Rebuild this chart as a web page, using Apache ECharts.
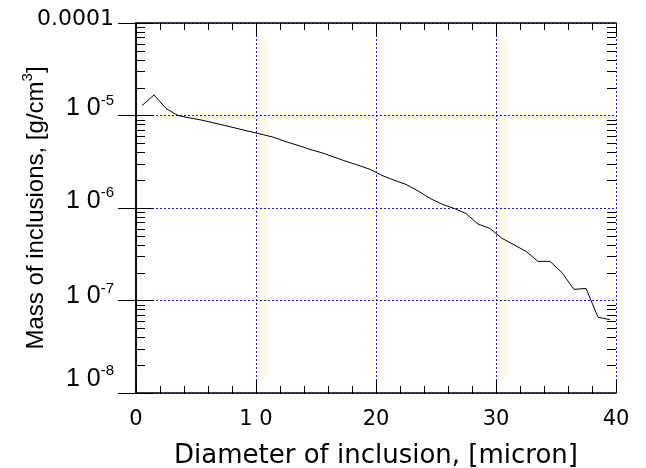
<!DOCTYPE html>
<html>
<head>
<meta charset="utf-8">
<script src="https://cdn.jsdelivr.net/npm/echarts@6/dist/echarts.min.js"></script>
<style>html,body{margin:0;padding:0;background:#fff}#c{width:646px;height:468px}</style>
</head>
<body>
<div id="c"></div>
<script>
// ---- data ----
const diameter = [0.5,1.5,2.5,3.5,4.5,5.5,6.5,7.5,8.5,9.5,10.5,11.5,12.5,13.5,14.5,15.5,16.5,17.5,18.5,19.5,
  20.5,21.5,22.5,23.5,24.5,25.5,26.5,27.5,28.5,29.5,30.5,31.5,32.5,33.5,34.5,35.5,36.5,37.5,38.5,39.5];
const mass = [1.28e-5,1.67e-5,1.19e-5,1.0e-5,9.4e-6,8.9e-6,8.3e-6,7.75e-6,7.2e-6,6.7e-6,
  6.25e-6,5.8e-6,5.2e-6,4.75e-6,4.3e-6,3.95e-6,3.55e-6,3.2e-6,2.9e-6,2.62e-6,
  2.25e-6,2.0e-6,1.8e-6,1.53e-6,1.27e-6,1.1e-6,9.9e-7,8.7e-7,6.7e-7,6.0e-7,
  4.7e-7,4.0e-7,3.4e-7,2.65e-7,2.65e-7,2.0e-7,1.32e-7,1.35e-7,6.6e-8,6.2e-8];
const xTickValues = [0,10,20,30,40];
const xTickLabels = ['0','1 0','20','30','40'];
const yTickValues = [1e-8,1e-7,1e-6,1e-5,1e-4];
const yTickBase = ['1 0','1 0','1 0','1 0','0.0001'];
const yTickExp = ['-8','-7','-6','-5',''];
const minorMultipliers = [2,3,4,5,6,7,8,9];
const minorDecades = [1e-8,1e-7,1e-6,1e-5];
const xTitle = 'Diameter of inclusion, [micron]';
const yTitleMain = 'Mass of inclusions, [g/cm';
const yTitleSup = '3';

const minorTickData = [];
minorDecades.forEach(d => minorMultipliers.forEach(m => minorTickData.push([0, m * d])));

const grid = {left:136, top:23, right:30, bottom:75, containLabel:false, outerBoundsMode:'none'};
const gridColor = '#1515c8';
const fontA = "'Liberation Sans', Arial, sans-serif";
const fontD = "'DejaVu Sans', sans-serif";

// per-label vertical lift (layout only)
const yLift = [28, 8, 14, 14, 7];
const rich = {};
yTickValues.forEach((v,i) => {
  const isBig = yTickExp[i] !== '';
  rich['b'+i] = {fontFamily: isBig ? fontA : fontD, fontSize: isBig ? 25 : 22, color:'#000', padding:[0,0,yLift[i],0], lineHeight: isBig ? 26 : 22};
  rich['s'+i] = {fontFamily: fontA, fontSize: 15, color:'#000', padding:[0,0,yLift[i]+16,0], lineHeight: 15};
});

function yLabel(val){
  const i = yTickValues.findIndex(t => Math.abs(Math.log10(t) - Math.log10(val)) < 1e-6);
  if (i < 0) return '';
  return '{b'+i+'|'+yTickBase[i]+'}' + (yTickExp[i] ? '{s'+i+'|'+yTickExp[i]+'}' : '');
}
function xLabel(val){
  const i = xTickValues.indexOf(val);
  return i < 0 ? '' : xTickLabels[i];
}

const chart = echarts.init(document.getElementById('c'), null, {renderer:'canvas'});
const axisLine = {show:true, lineStyle:{color:'#000', width:1.5}};
const split = {show:true, lineStyle:{color:gridColor, width:1, type:[2,2]}};
chart.setOption({
  animation:false,
  backgroundColor:'#fff',
  grid: grid,
  xAxis: [
    {type:'value', position:'bottom', min:0, max:40, interval:10,
     axisLine: axisLine, splitLine: split,
     axisTick:{show:true, inside:true, length:13, lineStyle:{color:'#000', width:1}},
     minorTick:{show:true, splitNumber:5, length:7, lineStyle:{color:'#000', width:1}},
     axisLabel:{formatter:xLabel, fontFamily:fontD, fontSize:21, color:'#000', margin:16},
     name:xTitle, nameLocation:'middle', nameGap:50, nameMoveOverlap:false,
     nameTextStyle:{fontFamily:fontD, fontSize:26, color:'#000'}},
    {type:'value', position:'top', min:0, max:40, interval:10,
     axisLine: axisLine, splitLine:{show:false},
     axisTick:{show:true, inside:true, length:13, lineStyle:{color:'#000', width:1}},
     minorTick:{show:true, splitNumber:5, length:7, lineStyle:{color:'#000', width:1}},
     axisLabel:{show:false}}
  ],
  yAxis: [
    {type:'log', logBase:10, min:1e-8, max:1e-4, position:'left',
     axisLine: axisLine, splitLine: split,
     axisTick:{show:true, inside:true, length:18, lineStyle:{color:'#000', width:1}},
     minorTick:{show:false},
     axisLabel:{formatter:yLabel, rich:rich, margin:22, color:'#000'},
     name:'{a|'+yTitleMain+'}{u|'+yTitleSup+'}{a|]}', nameLocation:'middle', nameGap:86, nameMoveOverlap:false,
     nameTextStyle:{rich:{
        a:{fontFamily:fontA, fontSize:24, color:'#000', lineHeight:28},
        u:{fontFamily:fontA, fontSize:15, color:'#000', padding:[0,0,16,0], lineHeight:15}}}},
    {type:'log', logBase:10, min:1e-8, max:1e-4, position:'right',
     axisLine: axisLine, splitLine:{show:false},
     axisTick:{show:true, inside:true, length:18, lineStyle:{color:'#000', width:1}},
     minorTick:{show:false},
     axisLabel:{show:false}}
  ],
  series: [
    {type:'line', xAxisIndex:0, yAxisIndex:0, data: diameter.map((x,i)=>[x, mass[i]]),
     showSymbol:false, symbol:'none', lineStyle:{color:'#000', width:1}, z:5},
    {type:'custom', xAxisIndex:0, yAxisIndex:0, data: minorTickData, silent:true, z:4,
     renderItem: function(params, api){
       const y = Math.round(api.coord([0, api.value(1)])[1]) + 0.5;
       const cs = params.coordSys;
       return {type:'group', children:[
         {type:'line', shape:{x1:cs.x, y1:y, x2:cs.x+9, y2:y}, style:{stroke:'#000', lineWidth:1}},
         {type:'line', shape:{x1:cs.x+cs.width-9, y1:y, x2:cs.x+cs.width, y2:y}, style:{stroke:'#000', lineWidth:1}}
       ]};
     }}
  ]
});
</script>
</body>
</html>
